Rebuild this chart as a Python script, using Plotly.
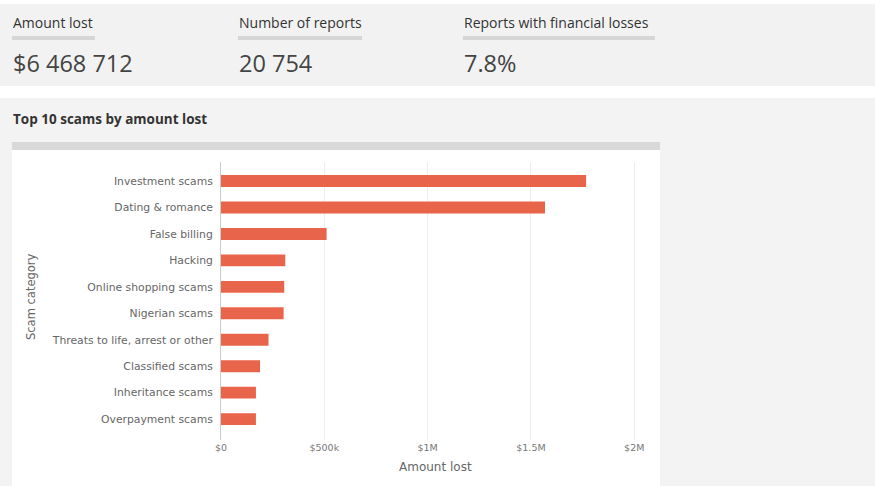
import plotly.graph_objects as go

W, H = 875, 486

categories = ["Investment scams", "Dating & romance", "False billing", "Hacking",
              "Online shopping scams", "Nigerian scams", "Threats to life, arrest or other",
              "Classified scams", "Inheritance scams", "Overpayment scams"]
amount_lost = [1767000, 1568000, 511000, 311000, 306000, 303000, 230000, 189000, 169000, 169000]

tick_vals = [0, 500000, 1000000, 1500000, 2000000]
tick_text = ["$0", "$500k", "$1M", "$1.5M", "$2M"]

kpi_labels = ["Amount lost", "Number of reports", "Reports with financial losses"]
kpi_values = ["$6 468 712", "20 754", "7.8%"]
kpi_x = [12, 238, 463]
kpi_bar_w = [83, 124, 192]

FONT = "Open Sans"
CFONT = "DejaVu Sans"

def px(x):
    return x / W

def py(y):
    return 1 - y / H

fig = go.Figure()
fig.add_trace(go.Bar(
    y=categories, x=amount_lost, orientation="h",
    marker=dict(color="#e8644a", line=dict(width=0)),
    hoverinfo="x+y",
))

shapes = []
# KPI panel
shapes.append(dict(type="rect", xref="paper", yref="paper", x0=px(0), x1=px(875), y0=py(86), y1=py(4),
                   fillcolor="#f2f2f2", line=dict(width=0), layer="below"))
# lower panel
shapes.append(dict(type="rect", xref="paper", yref="paper", x0=px(0), x1=px(875), y0=py(486), y1=py(98),
                   fillcolor="#f3f3f3", line=dict(width=0), layer="below"))
# chart card
shapes.append(dict(type="rect", xref="paper", yref="paper", x0=px(12), x1=px(660), y0=py(486), y1=py(150),
                   fillcolor="#ffffff", line=dict(width=0), layer="below"))
# card header bar
shapes.append(dict(type="rect", xref="paper", yref="paper", x0=px(12), x1=px(660), y0=py(150), y1=py(142),
                   fillcolor="#d9d9d9", line=dict(width=0), layer="below"))
for x0, w in zip(kpi_x, kpi_bar_w):
    shapes.append(dict(type="rect", xref="paper", yref="paper", x0=px(x0), x1=px(x0 + w), y0=py(40), y1=py(36),
                       fillcolor="#d6d6d6", line=dict(width=0), layer="below"))

annotations = []
for lab, val, x0 in zip(kpi_labels, kpi_values, kpi_x):
    annotations.append(dict(text=lab, xref="paper", yref="paper", x=px(x0 - 1), y=py(22),
                            xanchor="left", yanchor="middle", showarrow=False,
                            font=dict(family=FONT, size=14, color="#333333")))
    annotations.append(dict(text=val, xref="paper", yref="paper", x=px(x0 - 1), y=py(63),
                            xanchor="left", yanchor="middle", showarrow=False,
                            font=dict(family=FONT, size=23.5, color="#444444")))
annotations.append(dict(text="<b>Top 10 scams by amount lost</b>", xref="paper", yref="paper",
                        x=px(11), y=py(119), xanchor="left", yanchor="middle", showarrow=False,
                        font=dict(family=FONT, size=13.5, color="#333333")))
annotations.append(dict(text="Scam category", xref="paper", yref="paper", textangle=-90,
                        x=px(31), y=py(297), xanchor="center", yanchor="middle", showarrow=False,
                        font=dict(family=CFONT, size=11.5, color="#666666")))
annotations.append(dict(text="Amount lost", xref="paper", yref="paper",
                        x=px(435), y=py(467), xanchor="center", yanchor="middle", showarrow=False,
                        font=dict(family=CFONT, size=12, color="#666666")))

fig.update_layout(
    width=W, height=H,
    margin=dict(l=0, r=0, t=0, b=0),
    paper_bgcolor="#ffffff", plot_bgcolor="rgba(0,0,0,0)",
    bargap=0.55,
    showlegend=False,
    shapes=shapes,
    annotations=annotations,
    font=dict(family=CFONT, color="#666666"),
    xaxis=dict(domain=[px(221), px(645)], range=[0, 2052000],
               tickvals=tick_vals, ticktext=tick_text,
               tickfont=dict(family=CFONT, size=9.5, color="#777777"),
               showgrid=True, gridcolor="#eeeeee", gridwidth=1,
               zeroline=False, showline=False, automargin=False, ticks=""),
    yaxis=dict(domain=[py(440), py(162)], range=[9.79, -0.72], type="category",
               tickfont=dict(family=CFONT, size=10.8, color="#666666"),
               showline=True, linecolor="#cccccc", linewidth=1,
               showgrid=False, zeroline=False, automargin=False, ticks="", ticklabelstandoff=5),
)

fig.write_html("out.html", config={"displayModeBar": False},
               post_script="document.body.style.margin='0';document.body.style.overflow='hidden';")
